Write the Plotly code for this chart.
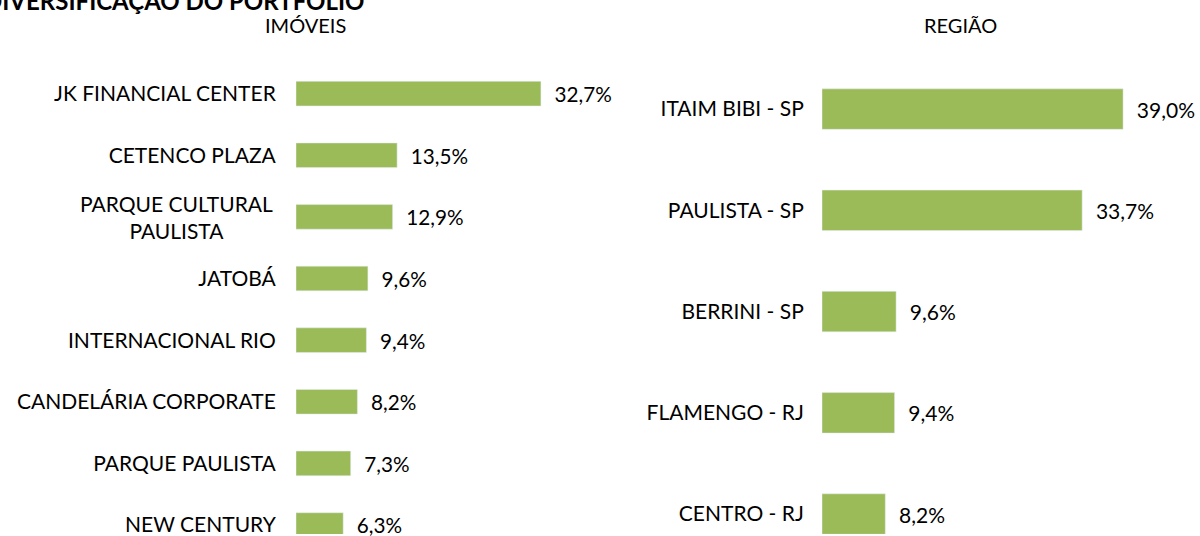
import plotly.graph_objects as go

imoveis = ["JK FINANCIAL CENTER", "CETENCO PLAZA", "PARQUE CULTURAL<br>PAULISTA", "JATOBÁ",
           "INTERNACIONAL RIO", "CANDELÁRIA CORPORATE", "PARQUE PAULISTA", "NEW CENTURY"]
imoveis_vals = [32.7, 13.5, 12.9, 9.6, 9.4, 8.2, 7.3, 6.3]

regioes = ["ITAIM BIBI - SP", "PAULISTA - SP", "BERRINI - SP", "FLAMENGO - RJ", "CENTRO - RJ"]
regioes_vals = [39.0, 33.7, 9.6, 9.4, 8.2]

title_text = "DIVERSIFICAÇÃO DO PORTFÓLIO"
sub_left = "IMÓVEIS"
sub_right = "REGIÃO"

W, H = 1200, 536
GREEN = "#9BBB59"
FONT = "Lato"
TXT = "#000000"
NB = "\u00a0\u00a0"

fig = go.Figure()
fig.add_trace(go.Bar(x=imoveis_vals, y=imoveis, orientation="h", marker_color=GREEN,
                     width=0.4, text=imoveis_vals, texttemplate=NB + "%{x:.1f}%",
                     textposition="outside", cliponaxis=False,
                     textfont=dict(size=21, color=TXT, family=FONT),
                     xaxis="x", yaxis="y"))
fig.add_trace(go.Bar(x=regioes_vals, y=regioes, orientation="h", marker_color=GREEN,
                     width=0.4, text=regioes_vals, texttemplate=NB + "%{x:.1f}%",
                     textposition="outside", cliponaxis=False,
                     textfont=dict(size=21, color=TXT, family=FONT),
                     xaxis="x2", yaxis="y2"))

def px_x(p):
    return p / W

def px_y(p):
    return 1 - p / H

top_px = 40
l_ppu = 61.86
l_range_top = -(94 - top_px) / l_ppu
l_range_bot = 7 + (536 - 527) / l_ppu
r_ppu = 101.6
r_range_top = -(109.5 - top_px) / r_ppu
r_range_bot = 4 + (536 - 516) / r_ppu

# multi-line labels are drawn as centred annotations; single-line ones as tick labels
left_ticktext = ["" if "<br>" in c else c for c in imoveis]
multi_annots = [
    dict(text=c, x=px_x(275), y=i, xref="paper", yref="y", showarrow=False,
         xanchor="right", yanchor="middle", align="center",
         font=dict(size=21, color=TXT, family=FONT))
    for i, c in enumerate(imoveis) if "<br>" in c
]

fig.update_layout(
    width=W, height=H, margin=dict(l=0, r=0, t=0, b=0),
    paper_bgcolor="white", plot_bgcolor="white", showlegend=False,
    separators=",.",
    font=dict(family=FONT, color=TXT),
    xaxis=dict(domain=[px_x(296), px_x(296 + 7.49 * 40)], range=[0, 40], visible=False),
    yaxis=dict(domain=[px_y(536), px_y(top_px)], range=[l_range_bot, l_range_top],
               type="category", anchor="x", showgrid=False, zeroline=False, showline=False,
               tickmode="array", tickvals=imoveis, ticktext=left_ticktext,
               ticks="outside", ticklen=15, tickcolor="rgba(0,0,0,0)",
               tickfont=dict(size=21, color=TXT, family=FONT)),
    xaxis2=dict(domain=[px_x(822), px_x(822 + 7.72 * 45)], range=[0, 45], visible=False,
                anchor="y2"),
    yaxis2=dict(domain=[px_y(536), px_y(top_px)], range=[r_range_bot, r_range_top],
                type="category", anchor="x2", showgrid=False, zeroline=False, showline=False,
                ticks="outside", ticklen=13, tickcolor="rgba(0,0,0,0)",
                tickfont=dict(size=21, color=TXT, family=FONT)),
    annotations=[
        dict(text=sub_left, x=px_x(305), y=px_y(25), xref="paper", yref="paper",
             showarrow=False, xanchor="center", yanchor="middle",
             font=dict(size=20, color=TXT, family=FONT)),
        dict(text=sub_right, x=px_x(960), y=px_y(25), xref="paper", yref="paper",
             showarrow=False, xanchor="center", yanchor="middle",
             font=dict(size=20, color=TXT, family=FONT)),
        dict(text="<b>" + title_text + "</b>", x=px_x(-18), y=px_y(0), xref="paper", yref="paper",
             showarrow=False, xanchor="left", yanchor="middle",
             font=dict(size=24, color=TXT, family=FONT)),
    ] + multi_annots,
)

fig.write_html("out.html")
